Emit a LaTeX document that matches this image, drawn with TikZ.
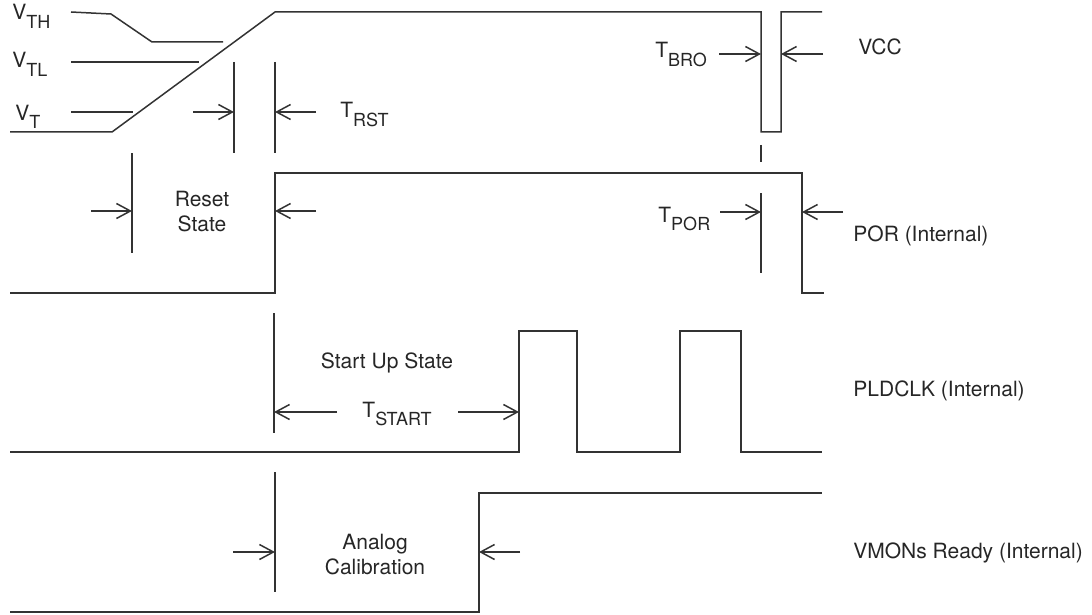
\documentclass[tikz,border=0pt]{standalone}
\usepackage{fontspec}
\setmainfont{TeX Gyre Heros}
\usetikzlibrary{arrows.meta,positioning,calc}

\newcommand{\lbsub}[2]{#1\raisebox{-0.8ex}{\fontsize{9}{10}\selectfont #2}}

\begin{document}
\begin{tikzpicture}[x=0.5pt,y=-0.5pt,
  wv/.style={line width=0.75pt,black!80,line join=miter},
  mk/.style={line width=0.75pt,black!80},
  ar/.style={line width=0.75pt,black!80,-{Straight Barb[length=7pt,width=7.5pt]}},
  lb/.style={font=\fontsize{10.5}{12.5}\selectfont,text=black!85,inner sep=0pt},
  tx/.style={lb,align=center}
]
\useasboundingbox (0,0) rectangle (1092,615);
% ---- VCC ----
\draw[wv] (10,132) -- (112,132) -- (275,12) -- (761,12) -- (761,132)
  -- (781,132) -- (781,12) -- (822,12);
\draw[wv] (71,12) -- (111,14) -- (152,42) -- (223,42);
\draw[wv] (71,62) -- (199,62);
\draw[wv] (71,112) -- (133,112);
\node[lb,anchor=base west] (vth) at (12,20)  {\lbsub{V}{TH}};
\node[lb,anchor=base west] (vtl) at (12,68)  {\lbsub{V}{TL}};
\node[lb,anchor=base west] (vt)  at (15,120) {\lbsub{V}{T}};
% T_RST
\coordinate (rsta) at (234,112);
\coordinate (rstb) at (275,112);
\draw[mk] (234,62) -- (234,153);
\draw[mk] (275,62) -- (275,153);
\draw[ar] (193,112) -- (rsta);
\draw[ar] (316,112) -- (rstb);
\node[lb,anchor=base west] (trst) at (340,118) {\lbsub{T}{RST}};
% T_BRO
\coordinate (broa) at (761,54);
\coordinate (brob) at (781,54);
\draw[ar] (719,54) -- (broa);
\draw[ar] (823,54) -- (brob);
\node[lb,anchor=base west] (tbro) at (655,58) {\lbsub{T}{BRO}};
\draw[mk] (761,145) -- (761,162);
\node[lb,anchor=west] (vcc) at (858,47) {VCC};
% ---- POR (Internal) ----
\draw[wv] (10,293) -- (275,293) -- (275,173) -- (802,173) -- (802,293) -- (824,293);
\coordinate (rsa) at (132,211);
\coordinate (rsb) at (275,211);
\draw[mk] (132,153) -- (132,253);
\draw[ar] (91,211) -- (rsa);
\draw[ar] (316,211) -- (rsb);
\node[tx] (reset) at (202,212) {Reset\\State};
\coordinate (pora) at (761,212);
\coordinate (porb) at (802,212);
\draw[mk] (761,193) -- (761,273);
\draw[ar] (720,212) -- (pora);
\draw[ar] (843,212) -- (porb);
\node[lb,anchor=base west] (tpor) at (658,222) {\lbsub{T}{POR}};
\node[lb,anchor=west] (por) at (853,236) {POR (Internal)};
% ---- PLDCLK (Internal) ----
\draw[wv] (10,452) -- (519,452) -- (519,331) -- (577,331) -- (577,452)
  -- (680,452) -- (680,331) -- (741,331) -- (741,452) -- (822,452);
\coordinate (sta) at (274,412);
\coordinate (stb) at (519,412);
\draw[mk] (274,313) -- (274,433);
\draw[ar] (337,412) -- (sta);
\draw[ar] (458,412) -- (stb);
\node[lb] (sus) at (387,363) {Start Up State};
\node[lb,anchor=base] (tstart) at (397,417) {\lbsub{T}{START}};
\node[lb,anchor=west] (pld) at (853,391) {PLDCLK (Internal)};
% ---- VMONs Ready (Internal) ----
\draw[wv] (10,612) -- (479,612) -- (479,493) -- (822,493);
\coordinate (aca) at (275,552);
\coordinate (acb) at (479,552);
\draw[mk] (275,472) -- (275,592);
\draw[ar] (233,552) -- (aca);
\draw[ar] (520,552) -- (acb);
\node[tx] (acal) at (375,555) {Analog\\Calibration};
\node[lb,anchor=west] (vmon) at (853,553) {VMONs Ready (Internal)};
\end{tikzpicture}
\end{document}
